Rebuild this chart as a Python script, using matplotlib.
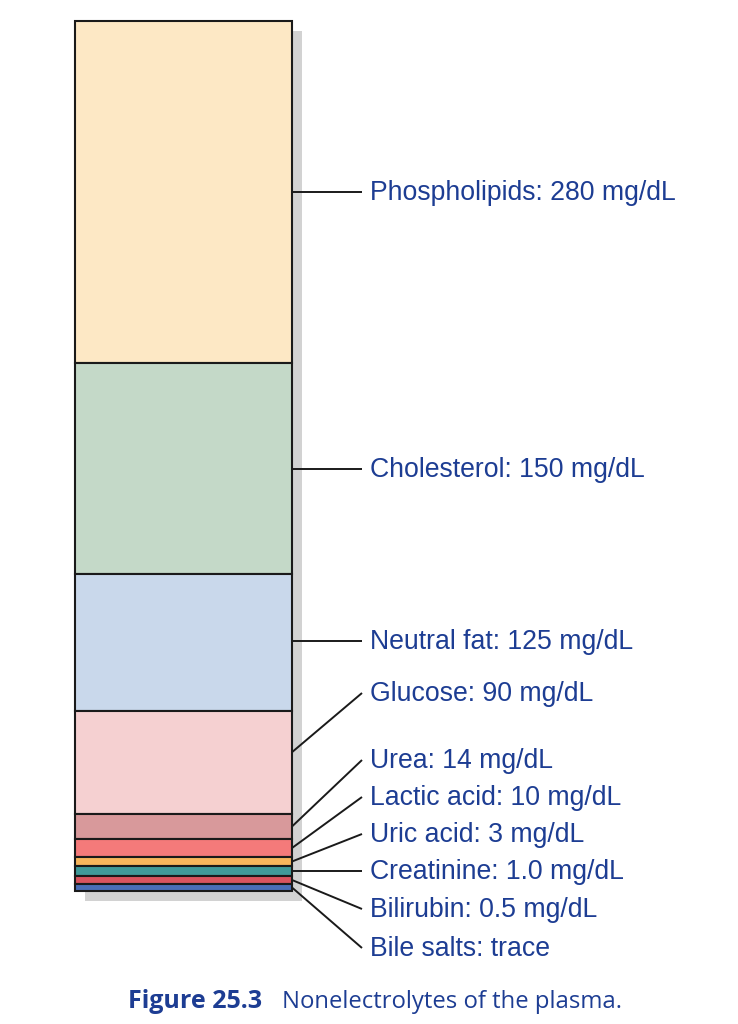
import matplotlib
matplotlib.use("Agg")
import matplotlib.pyplot as plt
import numpy as np

# plasma nonelectrolytes, top of the column to the bottom
names = ["Phospholipids", "Cholesterol", "Neutral fat", "Glucose", "Urea",
         "Lactic acid", "Uric acid", "Creatinine", "Bilirubin", "Bile salts"]
amounts = ["280 mg/dL", "150 mg/dL", "125 mg/dL", "90 mg/dL", "14 mg/dL",
           "10 mg/dL", "3 mg/dL", "1.0 mg/dL", "0.5 mg/dL", "trace"]
# drawn (schematic) segment heights as they appear in the figure
seg_heights = [342, 211, 137, 103, 25, 18, 9, 10, 8, 7]
colors = ["#fde8c5", "#c4d9c8", "#c9d8eb", "#f5d0d1", "#d8999b",
          "#f47a7a", "#f7b65c", "#3f9a99", "#d9545e", "#4a6eb6"]

# layout (pixels)
W, H = 738, 1024
bar_left, bar_width, bar_top = 75, 217, 21
shadow_dx, shadow_dy = 10, 10
text_x = 370
label_y = [192, 469, 641, 693, 760, 797, 834, 871, 909, 948]
text_color = "#1d3d93"

fig = plt.figure(figsize=(W / 100, H / 100), dpi=100)
ax = fig.add_axes([0, 0, 1, 1])
ax.set_xlim(0, W)
ax.set_ylim(H, 0)
ax.axis("off")

heights = np.array(seg_heights, dtype=float)
bottoms = bar_top + np.concatenate([[0], np.cumsum(heights)[:-1]])
total = heights.sum()

# drop shadow
ax.bar(bar_left + shadow_dx, total, width=bar_width, bottom=bar_top + shadow_dy,
       align="edge", color="#d2d2d2", linewidth=0, zorder=1)

ax.bar(np.full(len(heights), bar_left), heights, width=bar_width, bottom=bottoms,
       align="edge", color=colors, edgecolor="#1a1a1a", linewidth=1.5, zorder=2)

bar_right = bar_left + bar_width
mids = bottoms + heights / 2
mids[:3] = label_y[:3]           # big blocks: straight leaders
mids[3] = bottoms[3] + heights[3] * 0.4
for name, amt, y0, ty in zip(names, amounts, mids, label_y):
    ax.plot([bar_right, text_x - 8], [y0, ty], color="#1a1a1a", lw=1.4,
            solid_capstyle="butt", zorder=3)
    ax.text(text_x, ty + 1, f"{name}: {amt}", color=text_color, fontsize=19.2,
            family="Liberation Sans", va="center", ha="left")

cap1 = ax.text(128, 1002, "Figure 25.3", color=text_color, fontsize=18,
               family="Open Sans", fontweight="bold", va="center", ha="left")
fig.canvas.draw()
bb = cap1.get_window_extent(fig.canvas.get_renderer())
x_end = ax.transData.inverted().transform((bb.x1, bb.y0))[0]
ax.text(x_end + 20, 1002, "Nonelectrolytes of the plasma.", color=text_color,
        fontsize=17.2, family="Open Sans", va="center", ha="left")

fig.savefig("out.png", dpi=100, facecolor="white")
